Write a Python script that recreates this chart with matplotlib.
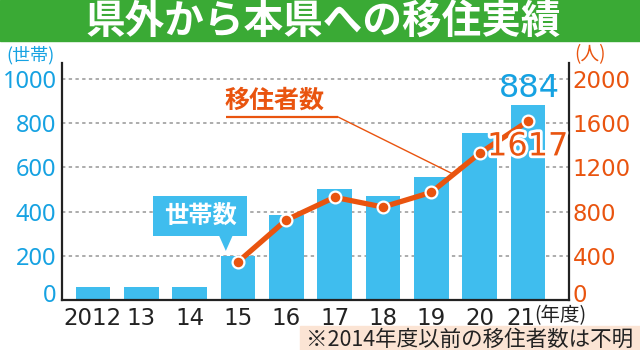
import matplotlib
matplotlib.use('Agg')
import matplotlib.pyplot as plt
from matplotlib.patches import Rectangle, Polygon
import matplotlib.patheffects as pe
import matplotlib.transforms as mtransforms

plt.rcParams['font.family'] = ['DejaVu Sans', 'Noto Sans CJK JP']

# data
years = ['2012', '13', '14', '15', '16', '17', '18', '19', '20', '21']
households = [60, 60, 60, 200, 385, 502, 470, 557, 754, 884]
migrant_years = ['15', '16', '17', '18', '19', '20', '21']
migrants = [344, 724, 929, 841, 974, 1327, 1617]
left_ticks = [0, 200, 400, 600, 800, 1000]
right_ticks = [0, 400, 800, 1200, 1600, 2000]

BLUE_BAR = '#3fbdee'
BLUE_TXT = '#16a2e2'
ORANGE = '#e9540f'
GREEN = '#3aaa35'
JP = 'Noto Sans CJK JP'

W, H = 640, 350
fig = plt.figure(figsize=(W / 100, H / 100), dpi=100)

# title banner
fig.patches.append(Rectangle((0, 1 - 41 / H), 1, 41 / H, transform=fig.transFigure,
                             color=GREEN, zorder=0))
fig.text(323 / W, 1 - 21 / H, '県外から本県への移住実績', color='white', fontsize=28.5,
         family=JP, weight='bold', ha='center', va='center')

ax = fig.add_axes([62 / W, 50 / H, (569 - 62) / W, (300 - 63) / H])
ax2 = ax.twinx()

x = list(range(len(years)))
xm = [years.index(y) for y in migrant_years]

ymax = 1072
ax.set_ylim(0, ymax)
ax2.set_ylim(0, ymax * 2)
ax.set_xlim(-0.64, 9.85)

ax.set_axisbelow(True)
ax.yaxis.grid(True, color='#969696', linestyle=(0, (2.2, 2.2)), linewidth=1.1)
ax.bar(x, households, width=0.72, color=BLUE_BAR, zorder=2)

ax2.plot(xm, migrants, color=ORANGE, lw=3.8, marker='o', ms=8.5, mfc=ORANGE,
         mec='white', mew=1.6, zorder=3, solid_capstyle='round')

# spines
for a in (ax, ax2):
    a.spines['top'].set_visible(False)
ax.spines['right'].set_visible(False)
ax2.spines['left'].set_visible(False)
ax2.spines['bottom'].set_visible(False)
for s in ('left', 'bottom'):
    ax.spines[s].set_linewidth(1.6)
    ax.spines[s].set_color('#222222')
ax2.spines['right'].set_linewidth(1.6)
ax2.spines['right'].set_color('#222222')

# ticks
ax.set_yticks(left_ticks)
ax.set_yticklabels([str(v) for v in left_ticks], family='Noto Sans')
ax2.set_yticks(right_ticks)
ax2.set_yticklabels([str(v) for v in right_ticks])
ax.set_xticks(x)
ax.set_xticklabels(years, family='DejaVu Sans')
ax.tick_params(axis='y', length=0, pad=4, labelsize=17, labelcolor=BLUE_TXT)
ax2.tick_params(axis='y', length=0, pad=2.5, labelsize=16.5, labelcolor=ORANGE)
ax.tick_params(axis='x', length=0, pad=5, labelsize=16.5, labelcolor='#222222')

# lift the zero labels a little, nudge the last year label left
up = mtransforms.ScaledTranslation(0, 7 / 100, fig.dpi_scale_trans)
lab = ax.get_yticklabels()[0]
lab.set_transform(lab.get_transform() + up)
lab = ax2.get_yticklabels()[0]
lab.set_transform(lab.get_transform() + up)
left = mtransforms.ScaledTranslation(-7 / 100, 0, fig.dpi_scale_trans)
lab = ax.get_xticklabels()[-1]
lab.set_transform(lab.get_transform() + left)

# unit labels
fig.text(31 / W, 1 - 55 / H, '(世帯)', color=BLUE_TXT, fontsize=13, family=JP,
         ha='center', va='center')
fig.text(590 / W, 1 - 55 / H, '(人)', color=ORANGE, fontsize=13.5, family=JP,
         ha='center', va='center')
fig.text(560 / W, 1 - 316 / H, '(年度)', color='#222222', fontsize=14, family=JP,
         ha='center', va='center')

# value labels
ax.text(x[-1] + 0.04, 955, str(households[-1]), color=BLUE_TXT, fontsize=23,
        ha='center', va='center', zorder=5)
t = ax2.text(xm[-1], 1385, str(migrants[-1]), color=ORANGE, fontsize=23,
             ha='center', va='center', zorder=6)
t.set_path_effects([pe.withStroke(linewidth=4, foreground='white')])

# household callout
ax.add_patch(Rectangle((1.24, 290), 3.19 - 1.24, 470 - 290, color=BLUE_BAR,
                       zorder=4, lw=0))
ax.add_patch(Polygon([(2.61, 291), (2.89, 291), (2.75, 222)], closed=True,
                     color=BLUE_BAR, zorder=4, lw=0))
ax.text(2.215, 381, '世帯数', color='white', fontsize=17.5, family=JP,
        weight='bold', ha='center', va='center', zorder=5)

# migrants label with leader line
ax.text(2.73, 900, '移住者数', color=ORANGE, fontsize=18, family=JP,
        weight='bold', ha='left', va='center', zorder=5)
ax.plot([2.75, 5.07], [828, 828], color=ORANGE, lw=1.6, zorder=5,
        solid_capstyle='butt')
ax.plot([5.07, 7.43], [828, 572], color=ORANGE, lw=1.0, zorder=5)

# footnote
fig.patches.append(Rectangle((300 / W, 0), 340 / W, 24 / H, transform=fig.transFigure,
                             color='#fbe4d4', zorder=0))
fig.text(306 / W, 1 - 340 / H, '※2014年度以前の移住者数は不明', color='#222222',
         fontsize=15.5, family=JP, ha='left', va='center')

fig.savefig('out.png', dpi=100)
